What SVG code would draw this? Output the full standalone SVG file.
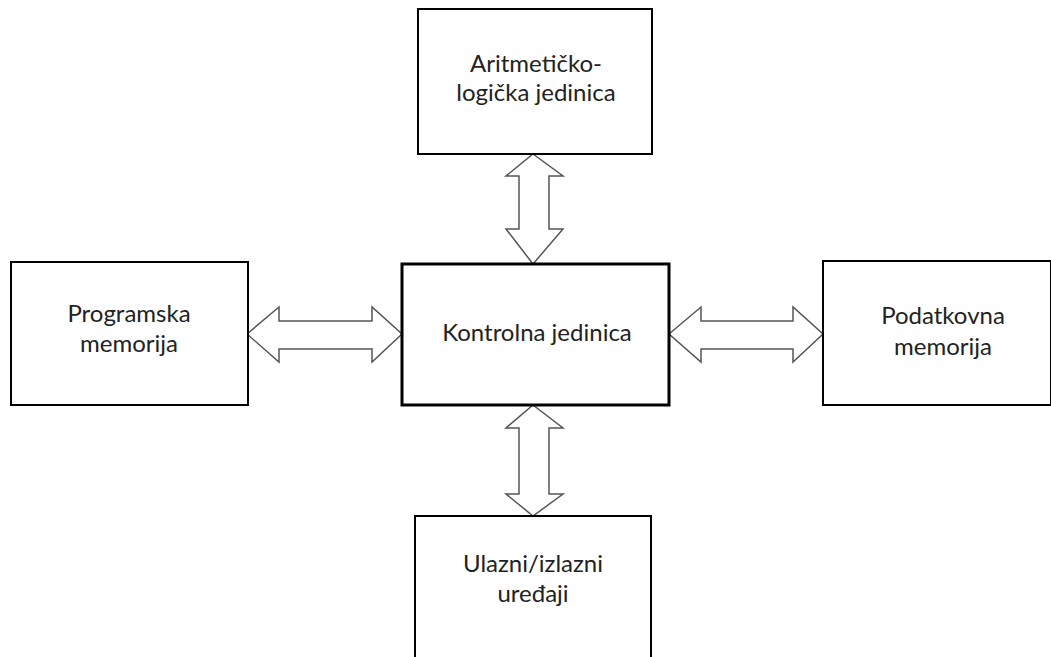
<svg xmlns="http://www.w3.org/2000/svg" width="1051" height="657" viewBox="0 0 1051 657">
<style>
.box{fill:#fff;stroke:#000;stroke-width:2}
.main{stroke-width:3}
.arr{fill:#fff;stroke:#555;stroke-width:1.5;stroke-linejoin:miter}
text{font-family:Lato,"Open Sans",sans-serif;font-size:24px;fill:#222;text-anchor:middle}
</style>
<rect width="1051" height="657" fill="#fff"/>
<g id="connectors">
<path class="arr" d="M533,154 L563,176 L549,176 L549,229 L563,229 L533,264 L506,229 L519,229 L519,176 L506,176 Z"/>
<path class="arr" d="M533,405 L563,428 L549,428 L549,494 L563,494 L533,516 L506,494 L519,494 L519,428 L506,428 Z"/>
<path class="arr" d="M247,334 L279,307 L279,321 L372,321 L372,307 L402,334 L372,362 L372,349 L279,349 L279,362 Z"/>
<path class="arr" d="M669,334 L701,307 L701,321 L793,321 L793,307 L823,334 L793,362 L793,349 L701,349 L701,362 Z"/>
</g>
<g id="alu">
<rect class="box" x="418" y="9" width="234" height="145"/>
<text x="536" y="72">Aritmetičko-</text>
<text x="536" y="101">logička jedinica</text>
</g>
<g id="control">
<rect class="box main" x="402" y="264" width="267" height="141"/>
<text x="537" y="341">Kontrolna jedinica</text>
</g>
<g id="program-memory">
<rect class="box" x="11" y="262" width="237" height="143"/>
<text x="129" y="322">Programska</text>
<text x="129" y="352">memorija</text>
</g>
<g id="data-memory">
<rect class="box" x="823" y="261" width="228" height="144"/>
<text x="943" y="324">Podatkovna</text>
<text x="943" y="355">memorija</text>
</g>
<g id="io">
<rect class="box" x="415" y="516" width="236" height="150"/>
<text x="533" y="572">Ulazni/izlazni</text>
<text x="533" y="602">uređaji</text>
</g>
</svg>
